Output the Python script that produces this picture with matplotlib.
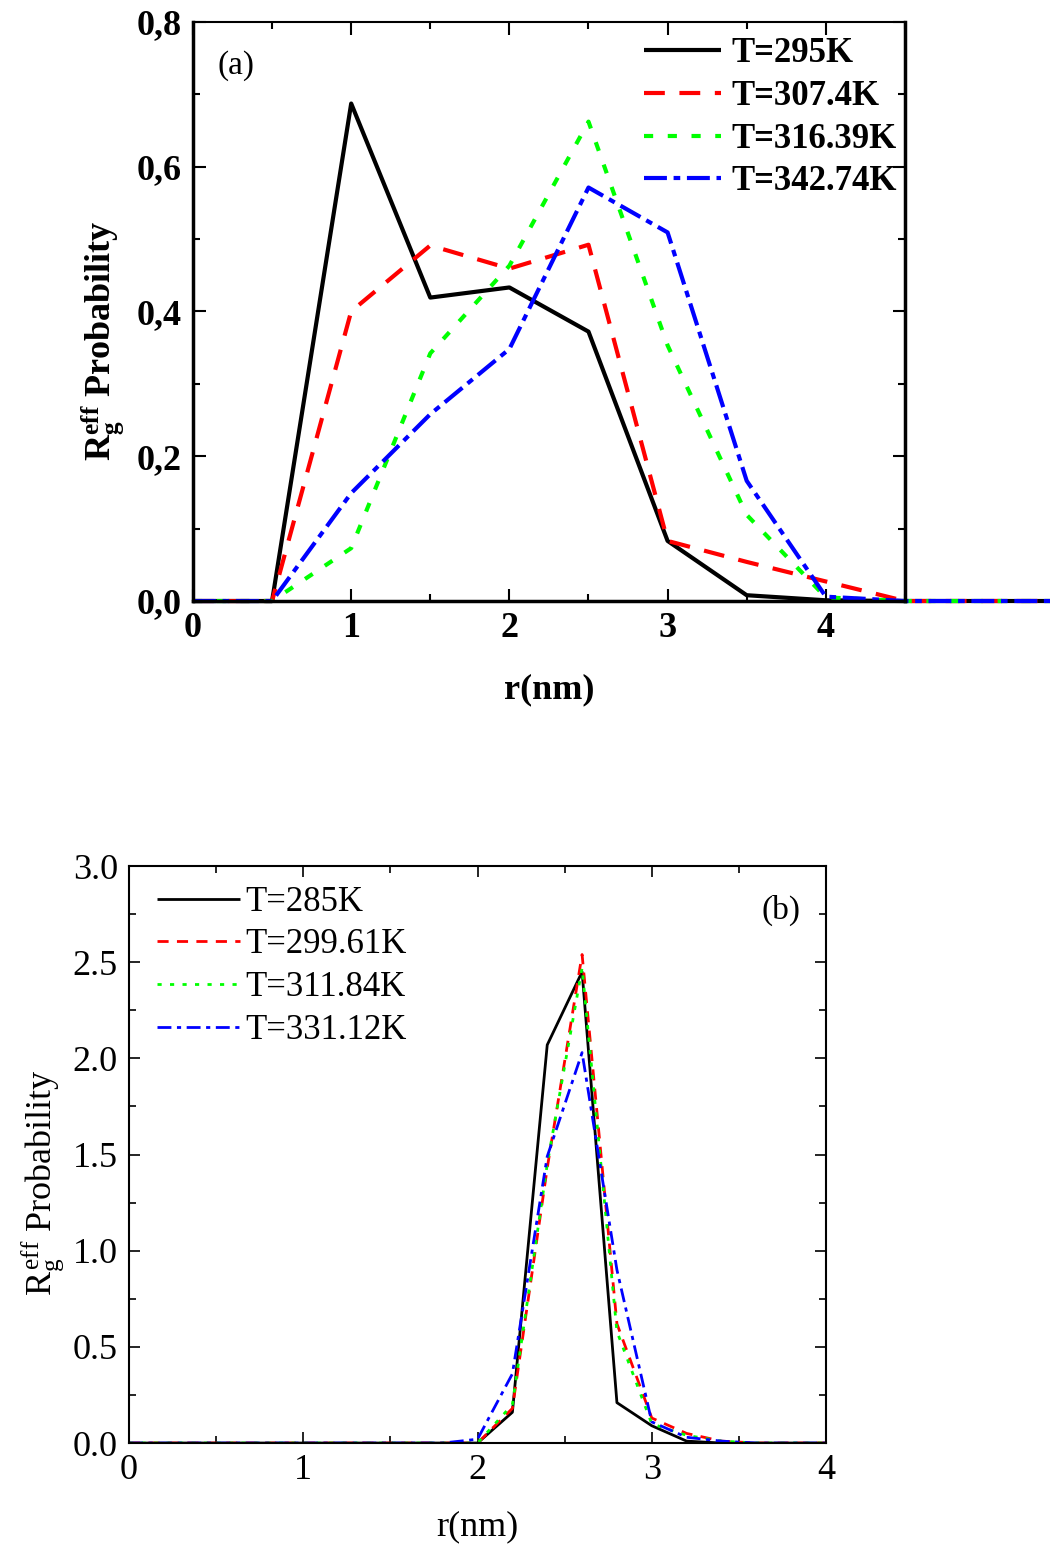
import numpy as np
import matplotlib
matplotlib.use("Agg")
import matplotlib.pyplot as plt
from matplotlib.ticker import MultipleLocator, FuncFormatter

plt.rcParams['font.family'] = ['Liberation Serif', 'DejaVu Serif']
plt.rcParams['mathtext.fontset'] = 'custom'
plt.rcParams['mathtext.rm'] = 'Liberation Serif'
plt.rcParams['mathtext.it'] = 'Liberation Serif'
plt.rcParams['mathtext.bf'] = 'Liberation Serif:bold'

# panel (a)
r_a = [0.0, 0.5, 1.0, 1.5, 2.0, 2.5, 3.0, 3.5, 4.0, 4.5, 5.0, 5.5, 6.0]
p_295 = [0, 0, 0.687, 0.419, 0.433, 0.372, 0.083, 0.008, 0.001, 0, 0, 0, 0]
p_307 = [0, 0, 0.400, 0.491, 0.459, 0.492, 0.083, 0.054, 0.027, 0.0, 0, 0, 0]
p_316 = [0, 0, 0.073, 0.342, 0.463, 0.662, 0.353, 0.119, 0.005, 0, 0, 0, 0]
p_342 = [0, 0, 0.149, 0.258, 0.348, 0.571, 0.509, 0.166, 0.006, 0, 0, 0, 0]
labels_a = ["T=295K", "T=307.4K", "T=316.39K", "T=342.74K"]

# panel (b)
r_b = [0.0, 1.8, 2.0, 2.2, 2.4, 2.6, 2.8, 3.0, 3.2, 3.4, 3.6, 4.0]
p_285 = [0, 0, 0.0, 0.16, 2.07, 2.45, 0.21, 0.09, 0.01, 0.0, 0, 0]
p_299 = [0, 0, 0.0, 0.18, 1.43, 2.54, 0.62, 0.13, 0.05, 0.01, 0, 0]
p_311 = [0, 0, 0.0, 0.20, 1.45, 2.47, 0.58, 0.10, 0.04, 0.01, 0, 0]
p_331 = [0, 0, 0.02, 0.36, 1.49, 2.03, 0.90, 0.11, 0.03, 0.01, 0, 0]
labels_b = ["T=285K", "T=299.61K", "T=311.84K", "T=331.12K"]

colors = ["black", "red", "#00ff00", "blue"]

fig = plt.figure(figsize=(10.5, 15.49), dpi=100)

# ---------- (a) ----------
ax1 = fig.add_axes([0.1838, 0.612, 0.678, 0.374])
lw = 3.0
styles_a = [(0, ()), (0, (5, 3.5)), (0, (2.2, 3.5)), (0, (5.5, 1.6, 1.6, 1.6))]
for ys, col, ls, lab in zip([p_295, p_307, p_316, p_342], colors, styles_a, labels_a):
    ax1.plot(r_a, ys, color=col, lw=lw, linestyle=ls, label=lab, clip_on=False,
             solid_joinstyle='miter')
ax1.set_xlim(0, 4.5)
ax1.set_ylim(0, 0.8)
ax1.xaxis.set_major_locator(MultipleLocator(1))
ax1.xaxis.set_minor_locator(MultipleLocator(0.5))
ax1.yaxis.set_major_locator(MultipleLocator(0.2))
ax1.yaxis.set_minor_locator(MultipleLocator(0.1))
ax1.yaxis.set_major_formatter(FuncFormatter(lambda v, p: ("%.1f" % v).replace(".", ",")))
ax1.xaxis.set_major_formatter(FuncFormatter(lambda v, p: "%d" % v))
ax1.tick_params(which='both', direction='in', top=True, right=True, width=1.5)
ax1.tick_params(which='major', length=9, labelsize=26, pad=8)
ax1.tick_params(which='minor', length=5)
for lbl in ax1.get_xticklabels() + ax1.get_yticklabels():
    lbl.set_fontweight('bold')
for side in ['left', 'right', 'bottom']:
    ax1.spines[side].set_linewidth(2.5)
ax1.spines['top'].set_linewidth(1.5)
ax1.set_xlabel("r(nm)", fontsize=26, fontweight='bold', labelpad=20)
ax1.set_ylabel(r"$\mathbf{R_g^{eff}}$ Probability", fontsize=26, fontweight='bold')
ax1.yaxis.set_label_coords(-0.093, 0.45)
ax1.text(0.035, 0.925, "(a)", transform=ax1.transAxes, fontsize=24, va='center')
leg1 = ax1.legend(loc='upper right', frameon=False, fontsize=25, handlelength=2.2,
                  handletextpad=0.3, labelspacing=0.28, borderaxespad=0.0,
                  bbox_to_anchor=(1.008, 0.997))
for t in leg1.get_texts():
    t.set_fontweight('bold')

# ---------- (b) ----------
ax2 = fig.add_axes([0.1229, 0.0684, 0.6638, 0.3725])
lw2 = 2.0
styles_b = [(0, ()), (0, (4, 3)), (0, (1.5, 3)), (0, (5, 2, 1.5, 2))]
for ys, col, ls, lab in zip([p_285, p_299, p_311, p_331], colors, styles_b, labels_b):
    ax2.plot(r_b, ys, color=col, lw=lw2, linestyle=ls, label=lab)
ax2.set_xlim(0, 4)
ax2.set_ylim(0, 3.0)
ax2.xaxis.set_major_locator(MultipleLocator(1))
ax2.xaxis.set_minor_locator(MultipleLocator(0.5))
ax2.yaxis.set_major_locator(MultipleLocator(0.5))
ax2.yaxis.set_minor_locator(MultipleLocator(0.25))
ax2.yaxis.set_major_formatter(FuncFormatter(lambda v, p: "%.1f" % v))
ax2.xaxis.set_major_formatter(FuncFormatter(lambda v, p: "%d" % v))
ax2.tick_params(which='both', direction='in', top=True, right=True, width=1.2)
ax2.tick_params(which='major', length=8, labelsize=26, pad=8)
ax2.tick_params(which='minor', length=5)
for side in ax2.spines:
    ax2.spines[side].set_linewidth(1.5)
ax2.set_xlabel("r(nm)", fontsize=26, labelpad=17)
ax2.set_ylabel(r"$R_g^{eff}$ Probability", fontsize=26)
ax2.yaxis.set_label_coords(-0.09, 0.452)
ax2.text(0.908, 0.923, "(b)", transform=ax2.transAxes, fontsize=24, va='center')
ax2.legend(loc='upper left', frameon=False, fontsize=25, handlelength=2.4,
           handletextpad=0.15, labelspacing=0.28, borderaxespad=0.0,
           bbox_to_anchor=(0.02, 0.99))

fig.savefig("out.png", dpi=100)
